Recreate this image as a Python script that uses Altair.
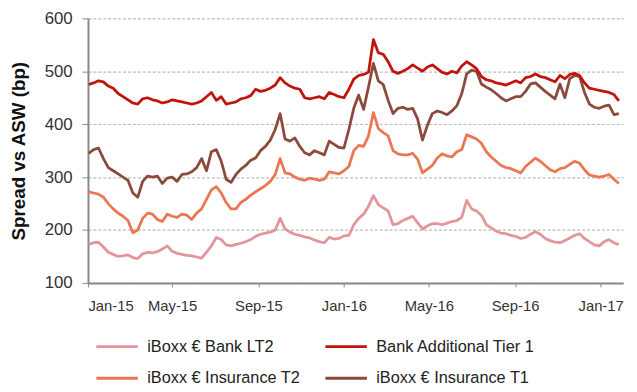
import altair as alt
import pandas as pd

start = "2015-01-02"
n_weeks = 109

bank_at1 = [475, 478, 482, 480, 472, 468, 458, 452, 446, 440,
            438, 448, 450, 446, 444, 440, 442, 446, 444, 442,
            440, 438, 440, 444, 452, 460, 445, 452, 438, 440,
            442, 448, 450, 454, 466, 462, 464, 468, 474, 488,
            478, 472, 468, 466, 450, 448, 450, 452, 448, 460,
            456, 452, 450, 466, 485, 492, 494, 498, 560, 535,
            532, 518, 500, 496, 500, 505, 512, 506, 500, 508,
            512, 505, 498, 495, 500, 497, 510, 518, 512, 505,
            490, 484, 482, 478, 476, 474, 478, 482, 478, 488,
            490, 495, 490, 488, 484, 480, 492, 486, 494, 496,
            492, 478, 468, 466, 464, 462, 460, 456, 444]

ins_t1 = [345, 352, 355, 335, 318, 312, 306, 300, 294, 270,
          262, 292, 302, 300, 302, 288, 298, 300, 292, 305,
          306, 310, 318, 335, 312, 348, 352, 330, 296, 290,
          305, 315, 322, 332, 336, 350, 358, 370, 390, 420,
          372, 368, 374, 358, 346, 342, 350, 346, 342, 368,
          362, 356, 355, 390, 430, 455, 428, 470, 515, 482,
          475, 445, 420, 430, 432, 428, 430, 410, 370, 398,
          420, 425, 422, 418, 425, 435, 458, 495, 502, 500,
          476, 470, 465, 458, 450, 444, 448, 452, 452, 462,
          476, 478, 470, 462, 455, 448, 476, 450, 486, 492,
          490, 460, 438, 432, 430, 434, 436, 418, 420]

ins_t2 = [272, 270, 268, 262, 250, 240, 232, 226, 218, 195,
          200, 222, 232, 230, 220, 216, 230, 226, 224, 230,
          228, 220, 232, 240, 258, 276, 282, 270, 252, 240,
          240, 252, 258, 266, 272, 278, 284, 292, 305, 335,
          308, 306, 300, 296, 294, 298, 296, 294, 296, 310,
          308, 306, 312, 320, 350, 360, 358, 378, 422, 392,
          384, 378, 350, 344, 342, 342, 345, 334, 308, 315,
          322, 336, 344, 340, 338, 348, 352, 380, 376, 372,
          364, 348, 338, 330, 322, 318, 316, 312, 308, 320,
          328, 336, 330, 322, 314, 310, 316, 318, 324, 330,
          326, 314, 304, 302, 300, 302, 305, 296, 288]

bank_lt2 = [173, 176, 177, 168, 158, 154, 150, 151, 153, 148,
            146, 155, 158, 157, 159, 164, 170, 160, 156, 154,
            152, 151, 149, 147, 158, 170, 186, 182, 172, 170,
            173, 175, 178, 182, 188, 192, 194, 196, 200, 222,
            202, 196, 192, 190, 187, 185, 181, 178, 176, 186,
            183, 184, 189, 190, 210, 222, 230, 245, 265, 248,
            242, 236, 210, 212, 218, 222, 226, 214, 202, 208,
            212, 212, 210, 213, 216, 218, 224, 256, 240, 236,
            228, 210, 204, 198, 194, 193, 190, 188, 184, 186,
            192, 197, 192, 184, 180, 177, 176, 180, 185, 190,
            193, 184, 178, 172, 170, 178, 182, 176, 172]

# legend grid fills column by column: first column LT2 / Ins T2, second AT1 / Ins T1
names = ["iBoxx € Bank LT2", "iBoxx € Insurance T2",
         "Bank Additional Tier 1", "iBoxx € Insurance T1"]
colors = ["#e3959c", "#ec7552", "#c0140c", "#8c4a3c"]
series = [bank_lt2, ins_t2, bank_at1, ins_t1]
draw_order = [0, 1, 3, 2]

dates = pd.date_range(start, periods=n_weeks, freq="7D")
frames = []
for k in draw_order:
    frames.append(pd.DataFrame({"date": dates.strftime("%Y-%m-%d"),
                                "series": names[k],
                                "value": series[k],
                                "order": k}))
df = pd.concat(frames, ignore_index=True)

tick_dates = [alt.DateTime(year=y, month=m, date=1, utc=True)
              for y, m in [(2015, 1), (2015, 5), (2015, 9), (2016, 1),
                           (2016, 5), (2016, 9), (2017, 1)]]

FONT = "Liberation Sans"

chart = alt.Chart(df).mark_line(strokeWidth=2.8, strokeJoin="round").encode(
    x=alt.X("date:T",
            scale=alt.Scale(type="utc",
                            domain=[alt.DateTime(year=2015, month=1, date=1, utc=True),
                                    alt.DateTime(year=2017, month=2, date=2, utc=True)]),
            axis=alt.Axis(title=None, values=tick_dates,
                          labelExpr="utcFormat(datum.value, '%b-%y')",
                          grid=False, labelFontSize=15,
                          labelColor="#333333", labelPadding=12, tickSize=4,
                          tickColor="#888888", domainColor="#888888",
                          domainWidth=2, labelFont=FONT)),
    y=alt.Y("value:Q",
            scale=alt.Scale(domain=[100, 600], nice=False, zero=False),
            axis=alt.Axis(title="Spread vs ASW (bp)", values=[100, 200, 300, 400, 500, 600],
                          titleFontSize=19, titleFont=FONT, titleFontWeight="bold",
                          titleColor="#111111", titlePadding=16,
                          labelFontSize=17, labelFont=FONT, labelColor="#333333",
                          labelPadding=10, tickSize=6, tickColor="#888888",
                          domainColor="#888888", domainWidth=2,
                          grid=True, gridColor="#bbbbbb", gridDash=[3, 2],
                          gridWidth=1.2)),
    color=alt.Color("series:N",
                    scale=alt.Scale(domain=names, range=colors),
                    sort=names,
                    legend=alt.Legend(title=None, orient="none", legendX=7,
                                      legendY=310, columns=2, symbolType="stroke",
                                      symbolSize=1764, symbolStrokeWidth=3,
                                      labelFontSize=16.5, labelFont=FONT,
                                      labelColor="#222222", labelOffset=8,
                                      columnPadding=19, rowPadding=1,
                                      labelLimit=300)),
    detail="order:N",
).properties(
    width=542, height=268,
    autosize=alt.AutoSizeParams(type="none"),
    padding={"left": 81, "top": 8, "right": 6, "bottom": 110},
).configure_view(stroke=None)

chart.save("out.html", embed_options={"renderer": "svg", "actions": False})
